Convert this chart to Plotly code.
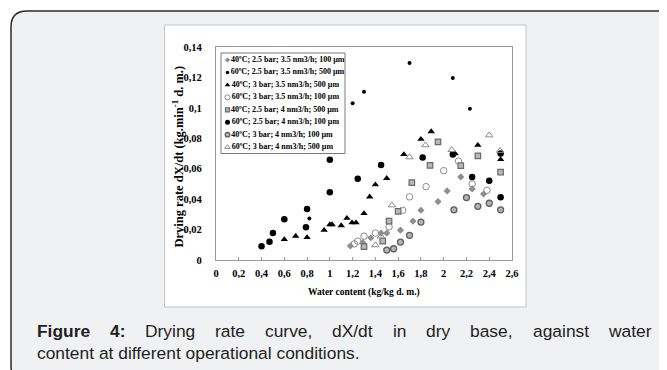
import plotly.graph_objects as go

# ---------------- data ----------------
series_names = [
    "40ºC; 2.5 bar; 3.5 nm3/h; 100 µm",
    "60ºC; 2.5 bar; 3.5 nm3/h; 500 µm",
    "40ºC; 3 bar; 3.5 nm3/h; 500 µm",
    "60ºC; 3 bar; 3.5 nm3/h; 100 µm",
    "40ºC; 2.5 bar; 4 nm3/h; 500 µm",
    "60ºC; 2.5 bar; 4 nm3/h; 100 µm",
    "40ºC; 3 bar; 4 nm3/h; 100 µm",
    "60ºC; 3 bar; 4 nm3/h; 500 µm",
]

s1_x = [1.18, 1.29, 1.36, 1.45, 1.50, 1.62, 1.73, 1.80, 1.95, 2.03, 2.15, 2.25, 2.35]
s1_y = [0.0092, 0.0114, 0.0146, 0.0177, 0.0177, 0.0196, 0.0255, 0.0327, 0.0384, 0.0454, 0.0546, 0.0467, 0.0434]

s2_x = [0.82, 1.20, 1.30, 1.70, 2.08, 2.23]
s2_y = [0.0273, 0.1030, 0.1106, 0.1295, 0.1197, 0.0994]

s3_x = [0.60, 0.70, 0.80, 0.95, 1.00, 1.02, 1.10, 1.15, 1.195, 1.23, 1.30, 1.35, 1.40, 1.50, 1.65, 1.80, 1.89, 2.10, 2.30, 2.50]
s3_y = [0.0135, 0.0157, 0.0148, 0.0196, 0.0233, 0.0233, 0.0226, 0.0275, 0.0245, 0.0245, 0.0306, 0.0415, 0.0495, 0.0537, 0.0694, 0.0794, 0.0844, 0.0700, 0.0755, 0.0661]

s4_x = [1.215, 1.245, 1.30, 1.40, 1.52, 1.64, 1.70, 1.845, 2.00, 2.13, 2.25, 2.38]
s4_y = [0.0106, 0.0124, 0.0157, 0.0177, 0.0218, 0.0327, 0.0415, 0.0482, 0.0587, 0.0650, 0.0500, 0.0458]

s5_x = [1.30, 1.465, 1.52, 1.60, 1.72, 1.88, 1.95, 2.15, 2.30, 2.50]
s5_y = [0.0088, 0.0124, 0.0255, 0.0319, 0.0508, 0.0622, 0.0777, 0.0620, 0.0685, 0.0578]

s6_x = [0.40, 0.47, 0.50, 0.60, 0.79, 0.80, 1.00, 1.00, 1.245, 1.45, 1.815, 2.08, 2.25, 2.40, 2.50, 2.50]
s6_y = [0.0090, 0.0120, 0.0177, 0.0268, 0.0216, 0.0336, 0.0445, 0.0659, 0.0534, 0.0624, 0.0674, 0.0694, 0.0546, 0.0521, 0.0412, 0.0700]

s7_x = [1.50, 1.56, 1.62, 1.70, 1.80, 2.09, 2.20, 2.30, 2.40, 2.50]
s7_y = [0.0065, 0.0074, 0.0118, 0.0162, 0.0249, 0.0330, 0.0410, 0.0353, 0.0373, 0.0330]

s8_x = [1.40, 1.45, 1.545, 1.70, 1.84, 2.07, 2.40, 2.495]
s8_y = [0.0098, 0.0155, 0.0360, 0.0676, 0.0755, 0.0724, 0.0820, 0.0718]

x_tickvals = [0, 0.2, 0.4, 0.6, 0.8, 1, 1.2, 1.4, 1.6, 1.8, 2, 2.2, 2.4, 2.6]
x_ticktext = ["0", "0,2", "0,4", "0,6", "0,8", "1", "1,2", "1,4", "1,6", "1,8", "2", "2,2", "2,4", "2,6"]
y_tickvals = [0, 0.02, 0.04, 0.06, 0.08, 0.10, 0.12, 0.14]
y_ticktext = ["0", "0,02", "0,04", "0,06", "0,08", "0,1", "0,12", "0,14"]

x_title = "Water content (kg/kg d. m.)"
y_title = "Drying rate dX/dt (kg.min<sup>-1</sup> d. m.)"
caption_bold = "Figure 4:"
caption_line1 = "Drying rate curve, dX/dt in dry base, against water"
caption_line2 = "content at different operational conditions."

# ---------------- layout helpers ----------------
# the page body keeps its default 8px margin, so the figure starts at (8, 8) on screen
OFF = 8
W, H = 667 - OFF, 370 - OFF
PL, PR, PT, PB = 216, 512, 47, 260          # plot area in screen pixels
ML, MR, MT, MB = PL - OFF, W - (PR - OFF), PT - OFF, H - (PB - OFF)
PW = PR - PL
PH = PB - PT


def px(x):
    return (x - PL) / PW


def py(y):
    return (PB - y) / PH


SERIF = "Liberation Serif"
SANS = "Liberation Sans"

styles = [
    dict(symbol="diamond", size=5.5, color="#8e8e8e", line=dict(width=0)),
    dict(symbol="circle", size=4, color="#000000", line=dict(width=0)),
    dict(symbol="triangle-up", size=6.5, color="#000000", line=dict(width=0)),
    dict(symbol="circle-open", size=6.5, color="#8c8c8c", line=dict(width=1)),
    dict(symbol="square", size=5.5, color="#b8b8b8", line=dict(color="#6a6a6a", width=1.2)),
    dict(symbol="circle", size=6.5, color="#000000", line=dict(width=0)),
    dict(symbol="circle", size=6, color="#b4b4b4", line=dict(color="#5e5e5e", width=1.3)),
    dict(symbol="triangle-up-open", size=6.5, color="#8c8c8c", line=dict(width=1)),
]

xs = [s1_x, s2_x, s3_x, s4_x, s5_x, s6_x, s7_x, s8_x]
ys = [s1_y, s2_y, s3_y, s4_y, s5_y, s6_y, s7_y, s8_y]

fig = go.Figure()
for name, x, y, st in zip(series_names, xs, ys, styles):
    fig.add_trace(go.Scatter(x=x, y=y, mode="markers", name=name, marker=st,
                             showlegend=False, hoverinfo="x+y"))

# manual legend (drawn on an auxiliary axis pair measured in screen pixels)
leg_x0, leg_y0, leg_row = 227.5, 60.0, 12.45
for i, (name, st) in enumerate(zip(series_names, styles)):
    st2 = dict(st)
    st2["size"] = max(st["size"] - 1.5, 3.5)
    fig.add_trace(go.Scatter(
        x=[leg_x0], y=[leg_y0 + i * leg_row], xaxis="x2", yaxis="y2",
        mode="markers+text", text=[name], textposition="middle right",
        textfont=dict(family=SERIF, size=8, color="#000", weight="bold"),
        marker=st2, showlegend=False, hoverinfo="skip", cliponaxis=False))

shapes = []
# outer rounded gray panel
x0, y0, x1, y1, r = 11, 11, 682, 382, 16
path = (f"M {px(x0)},{py(y0 + r)} "
        f"Q {px(x0)},{py(y0)} {px(x0 + r)},{py(y0)} "
        f"L {px(x1 - r)},{py(y0)} Q {px(x1)},{py(y0)} {px(x1)},{py(y0 + r)} "
        f"L {px(x1)},{py(y1 - r)} Q {px(x1)},{py(y1)} {px(x1 - r)},{py(y1)} "
        f"L {px(x0 + r)},{py(y1)} Q {px(x0)},{py(y1)} {px(x0)},{py(y1 - r)} Z")
shapes.append(dict(type="path", xref="paper", yref="paper", path=path,
                   fillcolor="#f0f1f3", line=dict(color="#2b2b2b", width=1.5), layer="below"))
# white chart image
shapes.append(dict(type="rect", xref="paper", yref="paper",
                   x0=px(164.5), x1=px(526), y0=py(25), y1=py(307),
                   fillcolor="#ffffff", line=dict(color="#c4c4c4", width=1), layer="below"))
# legend box
shapes.append(dict(type="rect", xref="paper", yref="paper",
                   x0=px(221), x1=px(345), y0=py(53), y1=py(153.5),
                   fillcolor="#ffffff", line=dict(color="#7a7a7a", width=1), layer="below"))

annotations = []
# axis titles
annotations.append(dict(text=x_title, xref="paper", yref="paper", x=px(364), y=py(292),
                        showarrow=False, xanchor="center", yanchor="middle",
                        font=dict(family=SERIF, size=9.5, color="#000", weight="bold")))
annotations.append(dict(text=y_title, xref="paper", yref="paper", x=px(177.5), y=py(157),
                        showarrow=False, xanchor="center", yanchor="middle", textangle=-90,
                        font=dict(family=SERIF, size=12.5, color="#000", weight="bold")))

# caption: justified first line, word by word (Arial/Liberation Sans metrics)
ARIAL = {' ': 278, 'D': 722, 'r': 333, 'y': 500, 'i': 222, 'n': 556, 'g': 556, 'a': 556,
         't': 278, 'e': 556, 'c': 500, 'u': 556, 'v': 500, ',': 278, 'd': 556, 'X': 667,
         '/': 278, 'b': 556, 's': 500, 'w': 722, 'o': 556, 'p': 556, 'l': 222, 'f': 278,
         'm': 833, '.': 278, '4': 556, ':': 278, 'F': 611}
ARIAL_B = {'F': 611, 'i': 278, 'g': 611, 'u': 611, 'r': 389, 'e': 556, '4': 556, ':': 333, ' ': 278}
CAP = 17.4
cap_x0, cap_x1 = 35, 649
words = [(w, True) for w in caption_bold.split()] + [(w, False) for w in caption_line1.split()]
widths = [sum((ARIAL_B if b else ARIAL).get(ch, 556) for ch in w) * CAP / 1000 for w, b in words]
gap = (cap_x1 - cap_x0 - sum(widths)) / (len(words) - 1)
cx = cap_x0
for (w, b), wd in zip(words, widths):
    annotations.append(dict(text=w, xref="paper", yref="paper", x=px(cx), y=py(331),
                            showarrow=False, xanchor="left", yanchor="middle",
                            font=dict(family=SANS, size=CAP, color="#231f20",
                                      weight="bold" if b else "normal")))
    cx += wd + gap
annotations.append(dict(text=caption_line2, xref="paper", yref="paper", x=px(cap_x0), y=py(353),
                        showarrow=False, xanchor="left", yanchor="middle",
                        font=dict(family=SANS, size=CAP, color="#231f20")))

axis_common = dict(showgrid=False, zeroline=False, showline=True, mirror=True,
                   linecolor="#9a9a9a", linewidth=1.3)

fig.update_layout(
    width=W, height=H,
    margin=dict(l=ML, r=MR, t=MT, b=MB, pad=0),
    paper_bgcolor="#ffffff", plot_bgcolor="#ffffff",
    showlegend=False,
    xaxis=dict(range=[0, 2.6], tickvals=x_tickvals, ticktext=x_ticktext,
               ticks="inside", ticklen=3, tickcolor="#9a9a9a",
               tickfont=dict(family=SERIF, size=10.5, color="#000", weight="bold"),
               ticklabelstandoff=3, **axis_common),
    yaxis=dict(range=[0, 0.14], tickvals=y_tickvals, ticktext=y_ticktext,
               ticks="", tickfont=dict(family=SERIF, size=10.5, color="#000", weight="bold"),
               ticklabelstandoff=11, **axis_common),
    xaxis2=dict(overlaying="x", range=[PL, PR], visible=False, fixedrange=True),
    yaxis2=dict(overlaying="y", range=[PB, PT], visible=False, fixedrange=True),
    shapes=shapes,
    annotations=annotations,
)

fig.write_html("out.html")
